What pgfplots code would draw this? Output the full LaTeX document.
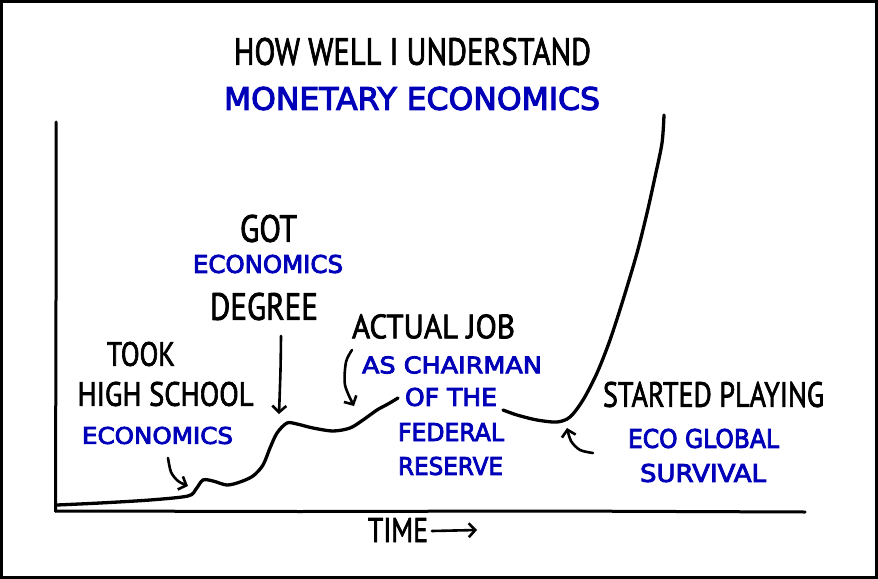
\documentclass[border=0pt]{standalone}
\usepackage{pgfplots}
\pgfplotsset{compat=1.18}
\usepackage{graphicx}
\usepackage{fontspec}
\setmainfont{PT Sans}
\newfontfamily\blackfont[FakeBold=2.2]{PT Sans}
\newfontfamily\bluefont[FakeBold=3.5]{DejaVu Sans}
\usetikzlibrary{arrows.meta}
\definecolor{xblue}{RGB}{0,0,185}
% \lbl{x}{y}{width}{height}{text}
\newcommand\lbl[5]{\node[inner sep=0pt,text=black] at (axis cs:#1,#2) {\resizebox{#3bp}{#4bp}{\blackfont #5}};}
\newcommand\blbl[5]{\node[inner sep=0pt,text=xblue] at (axis cs:#1,#2) {\resizebox{#3bp}{#4bp}{\bluefont #5}};}
\tikzset{xarr/.style={black, line width=2.6bp, line cap=round, -{Straight Barb[length=6.5bp,width=14bp]}}}
\begin{document}
\begin{tikzpicture}
\begin{axis}[
  scale only axis, width=878bp, height=579bp,
  xmin=0, xmax=878, ymin=0, ymax=579, y dir=reverse,
  hide axis, clip=false,
]
% frame
\addplot[black, line width=3.2bp] coordinates {(1.6,1.6) (876.4,1.6) (876.4,577.4) (1.6,577.4) (1.6,1.6)} -- cycle;
% axes
\addplot[black, line width=3bp, line cap=round] coordinates {(56,122) (56,300) (55.5,511)};
\addplot[black, line width=3bp, line cap=round] coordinates {(55.5,511) (300,511.5) (550,511) (805,512)};
% curve part 1
\addplot[black, line width=3.3bp, smooth, line cap=round, tension=0.5] coordinates {
(57,505) (100,503) (150,500) (188,496) (196,489) (203,480) (213,481) (227,485) (240,482) (253,476)
(263,465) (270,448) (277,433) (287,423) (297,424) (313,428) (333,431) (350,428) (363,420) (377,410) (388,404) (398,398)};
% curve part 2
\addplot[black, line width=3.3bp, smooth, line cap=round, tension=0.5] coordinates {
(503,410) (517,415) (537,420) (557,422) (570,417) (583,400) (597,373) (610,340) (623,300) (637,253) (647,213) (655,177) (662,143) (664,115)};
% arrows
\addplot[xarr, smooth] coordinates {(168,458) (171,472) (178,481) (188,486)};
\addplot[xarr, smooth] coordinates {(281,336) (280.5,370) (279,414)};
\addplot[xarr, smooth] coordinates {(352,350) (346,362) (345,385) (354,406)};
\addplot[xarr, smooth] coordinates {(593,453) (580,450) (571,441) (567,428)};
\addplot[xarr] coordinates {(432,531) (477,530)};
% texts
\lbl{412.5}{51.5}{357}{27}{HOW WELL I UNDERSTAND}
\blbl{412}{98.5}{376}{23}{MONETARY ECONOMICS}
\lbl{268.5}{228.5}{57}{27}{GOT}
\blbl{268}{264}{150}{18}{ECONOMICS}
\lbl{264}{306.5}{108}{27}{DEGREE}
\lbl{141}{354}{68}{24}{TOOK}
\lbl{165.5}{394}{176}{24}{HIGH SCHOOL}
\blbl{157.5}{435.5}{151}{17}{ECONOMICS}
\lbl{433.5}{326.5}{163}{24}{ACTUAL JOB}
\blbl{452}{365}{180}{17}{AS CHAIRMAN}
\blbl{451}{397}{92}{18}{OF THE}
\blbl{451}{432}{106}{18}{FEDERAL}
\blbl{450.5}{466}{105}{18}{RESERVE}
\lbl{713.5}{394.5}{221}{25}{STARTED PLAYING}
\blbl{703.5}{438.5}{151}{19}{ECO GLOBAL}
\blbl{703}{473}{126}{18}{SURVIVAL}
\lbl{398}{530}{60}{24}{TIME}
\end{axis}
\end{tikzpicture}
\end{document}
